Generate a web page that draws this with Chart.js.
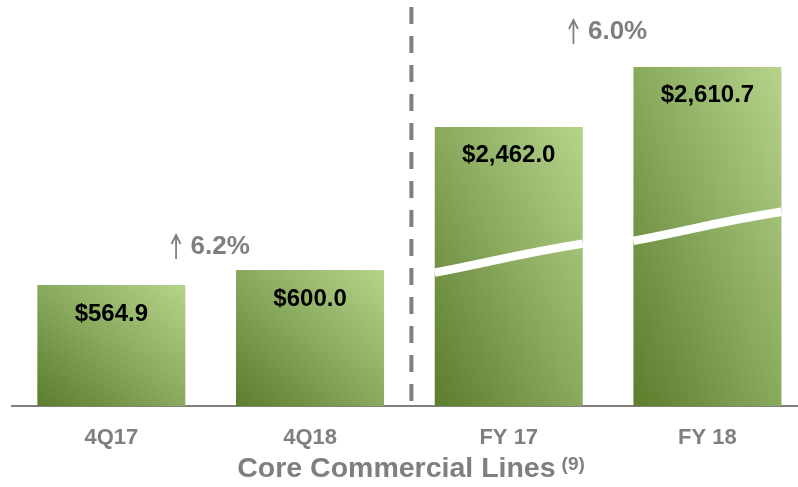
<!DOCTYPE html>
<html>
<head>
<meta charset="utf-8">
<script src="https://cdn.jsdelivr.net/npm/chart.js@4.4.0/dist/chart.umd.min.js"></script>
<style>
  html, body { margin: 0; padding: 0; background: #fff; overflow: hidden; }
  #wrap { width: 798px; height: 487px; overflow: hidden; }
</style>
</head>
<body>
<div id="wrap"><canvas id="chart" width="810" height="487"></canvas></div>
<script>
// data
const categories = ["4Q17", "4Q18", "FY 17", "FY 18"];
const quarterValues = [564.9, 600.0, null, null];
const fiscalValues = [null, null, 2462.0, 2610.7];
const axisTitle = "Core Commercial Lines";
const axisNote = "(9)";

const FONT = "'Liberation Sans', Arial, sans-serif";
const GREY = "#7f7f7f";

function money(v) {
  return "$" + v.toLocaleString("en-US", { minimumFractionDigits: 1, maximumFractionDigits: 1 });
}

// diagonal gradient, bottom-left dark -> top-right light (scaled to the bar)
function barFill(context) {
  const chart = context.chart;
  if (context.type !== "data" || !chart.chartArea) return "#8aab5e";
  const v = context.raw;
  if (v === null || v === undefined) return "#8aab5e";
  const ds = chart.data.datasets[context.datasetIndex];
  const x = chart.scales.x;
  const y = chart.scales[ds.yAxisID];
  const cx = x.getPixelForValue(context.dataIndex);
  const w = (x.width / categories.length) * 0.745;
  const top = y.getPixelForValue(v);
  const base = y.bottom;
  const h = base - top;
  const x0 = cx - w / 2;
  const k = (2 * w * h) / (w * w + h * h);
  const g = chart.ctx.createLinearGradient(x0, base, x0 + h * k, base - w * k);
  g.addColorStop(0, "#5b7d2c");
  g.addColorStop(0.5, "#89a95d");
  g.addColorStop(1, "#b5d48a");
  return g;
}

const decorations = {
  id: "decorations",
  afterDatasetsDraw(chart) {
    const ctx = chart.ctx;
    const x = chart.scales.x;
    const area = chart.chartArea;
    ctx.save();

    // broken-axis mark on the full-year bars
    chart.getDatasetMeta(1).data.forEach((bar, i) => {
      if (fiscalValues[i] === null) return;
      const x0 = bar.x - bar.width / 2, x1 = bar.x + bar.width / 2;
      const w = bar.width;
      const yc = area.bottom - (area.bottom - bar.y) * 0.53;
      ctx.beginPath();
      ctx.moveTo(x0, yc + 14.5);
      ctx.bezierCurveTo(x0 + w * 0.35, yc + 5, x0 + w * 0.55, yc - 4, x1, yc - 14.5);
      ctx.strokeStyle = "#ffffff";
      ctx.lineWidth = 8.5;
      ctx.stroke();
    });

    // value labels inside bars
    ctx.fillStyle = "#000";
    ctx.font = "bold 24px " + FONT;
    ctx.textAlign = "center";
    ctx.textBaseline = "alphabetic";
    chart.data.datasets.forEach((ds, di) => {
      chart.getDatasetMeta(di).data.forEach((bar, i) => {
        const v = ds.data[i];
        if (v === null) return;
        ctx.fillText(money(v), bar.x, bar.y + 35.5);
      });
    });

    // dashed separator between quarters and full years
    const sepX = (x.getPixelForValue(1) + x.getPixelForValue(2)) / 2 + 2;
    ctx.beginPath();
    ctx.setLineDash([17, 12]);
    ctx.moveTo(sepX, 7);
    ctx.lineTo(sepX, area.bottom);
    ctx.strokeStyle = GREY;
    ctx.lineWidth = 4;
    ctx.stroke();
    ctx.setLineDash([]);

    // growth labels: thin up arrow + bold percentage
    const growth = [
      { a: 0, b: 1, vals: quarterValues, y: 254 },
      { a: 2, b: 3, vals: fiscalValues, y: 39 }
    ];
    growth.forEach(gr => {
      const pct = ((gr.vals[gr.b] / gr.vals[gr.a] - 1) * 100).toFixed(1) + "%";
      const cx = (x.getPixelForValue(gr.a) + x.getPixelForValue(gr.b)) / 2;
      ctx.font = "bold 26px " + FONT;
      const pw = ctx.measureText(pct).width;
      const aw = 9, gap = 10;
      const left = cx - (aw + gap + pw) / 2;
      const ax = left + aw / 2;
      ctx.strokeStyle = GREY;
      ctx.lineWidth = 1.8;
      ctx.beginPath();
      ctx.moveTo(ax, gr.y + 5);
      ctx.lineTo(ax, gr.y - 18);
      ctx.moveTo(ax - aw / 2, gr.y - 10);
      ctx.lineTo(ax, gr.y - 19);
      ctx.lineTo(ax + aw / 2, gr.y - 10);
      ctx.stroke();
      ctx.fillStyle = GREY;
      ctx.textAlign = "left";
      ctx.fillText(pct, left + aw + gap, gr.y);
    });

    // axis title with superscript note
    ctx.font = "bold 28.5px " + FONT;
    const tw = ctx.measureText(axisTitle).width;
    ctx.font = "bold 19px " + FONT;
    const nw = ctx.measureText(axisNote).width;
    const gap = 6;
    const tx = 411 - (tw + gap + nw) / 2;
    ctx.fillStyle = GREY;
    ctx.font = "bold 28.5px " + FONT;
    ctx.fillText(axisTitle, tx, 477);
    ctx.font = "bold 19px " + FONT;
    ctx.fillText(axisNote, tx + tw + gap, 470);

    ctx.restore();
  }
};

new Chart(document.getElementById("chart"), {
  type: "bar",
  data: {
    labels: categories,
    datasets: [
      {
        label: "Quarter",
        data: quarterValues,
        yAxisID: "yQ",
        backgroundColor: barFill,
        grouped: false,
        categoryPercentage: 1,
        barPercentage: 0.745,
        borderWidth: 0
      },
      {
        label: "Full year",
        data: fiscalValues,
        yAxisID: "yFY",
        backgroundColor: barFill,
        grouped: false,
        categoryPercentage: 1,
        barPercentage: 0.745,
        borderWidth: 0
      }
    ]
  },
  options: {
    responsive: false,
    animation: false,
    layout: { padding: { left: 12, right: 3.2, top: 0, bottom: 0 } },
    plugins: {
      legend: { display: false },
      tooltip: { enabled: false }
    },
    scales: {
      x: {
        grid: { display: false },
        border: { display: true, color: GREY, width: 2 },
        ticks: {
          color: GREY,
          padding: 11,
          font: { family: FONT, size: 22, weight: "bold" }
        },
        afterFit(scale) { scale.height = 81; }
      },
      // quarters and full years sit on separate (broken) scales
      yQ: { display: false, min: 281.8, max: 1231.8 },
      yFY: { display: false, min: 1770.5, max: 2776.7 }
    }
  },
  plugins: [decorations]
});
</script>
</body>
</html>
